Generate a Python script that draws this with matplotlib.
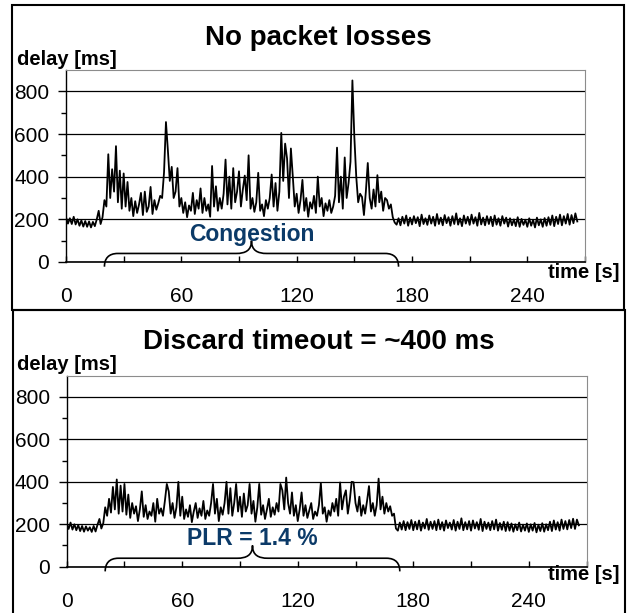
import numpy as np
import matplotlib
matplotlib.use('Agg')
import matplotlib.pyplot as plt
from matplotlib.path import Path
from matplotlib.patches import PathPatch, Rectangle
from matplotlib.ticker import MultipleLocator, FixedLocator

plt.rcParams['font.family'] = ['Liberation Sans', 'DejaVu Sans']

# delay [ms], one sample per second

# no packet losses
delay_top = [
    210, 180, 205, 178, 212, 176, 200, 170, 195, 166,   # 0-9
    192, 165, 190, 162, 188, 168, 200, 240, 178, 210,   # 10-19
    290, 260, 505, 300, 435, 330, 543, 280, 428, 250,   # 20-29
    415, 260, 375, 240, 300, 215, 285, 230, 270, 324,   # 30-39
    220, 330, 235, 260, 352, 225, 290, 245, 275, 310,   # 40-49
    300, 420, 656, 524, 380, 446, 300, 330, 440, 260,   # 50-59
    300, 230, 280, 210, 265, 240, 324, 225, 290, 250,   # 60-69
    345, 230, 300, 240, 270, 212, 450, 260, 355, 240,   # 70-79
    300, 250, 320, 480, 270, 400, 250, 440, 280, 330,   # 80-89
    425, 260, 340, 405, 290, 500, 250, 300, 235, 280,   # 90-99
    418, 240, 270, 215, 290, 250, 300, 410, 260, 370,   # 100-109
    240, 330, 605, 380, 555, 485, 300, 532, 400, 260,   # 110-119
    320, 230, 290, 385, 240, 300, 212, 280, 250, 310,   # 120-129
    230, 400, 260, 300, 215, 275, 240, 290, 230, 260,   # 130-139
    310, 536, 280, 400, 250, 490, 300, 370, 470, 851,   # 140-149
    588, 400, 280, 320, 305, 220, 330, 464, 300, 250,   # 150-159
    340, 260, 407, 280, 330, 240, 300, 290, 250, 270,   # 160-169
    210, 185, 175, 205, 172, 212, 180, 218, 170, 208,   # 170-179
    176, 215, 182, 210, 168, 222, 178, 205, 174, 218,   # 180-189
    180, 212, 170, 225, 178, 208, 172, 220, 182, 210,   # 190-199
    170, 215, 178, 228, 175, 205, 168, 218, 180, 212,   # 200-209
    174, 222, 180, 210, 170, 230, 176, 208, 172, 215,   # 210-219
    178, 212, 168, 218, 175, 205, 170, 215, 180, 208,   # 220-229
    166, 205, 172, 200, 168, 210, 165, 202, 174, 198,   # 230-239
    165, 205, 170, 198, 162, 208, 172, 200, 165, 206,   # 240-249
    170, 210, 174, 218, 168, 212, 178, 222, 172, 215,   # 250-259
    180, 225, 175, 220, 182, 228, 190,                  # 260-266
]

# discard timeout = ~400 ms
delay_bottom = [
    205, 178, 208, 175, 200, 172, 196, 168, 192, 165,   # 0-9
    190, 170, 186, 164, 192, 166, 198, 225, 180, 205,   # 10-19
    280, 240, 320, 255, 376, 270, 411, 250, 382, 260,   # 20-29
    390, 245, 340, 230, 300, 250, 285, 215, 270, 355,   # 30-39
    235, 290, 225, 260, 240, 300, 212, 320, 250, 275,   # 40-49
    240, 310, 390, 355, 250, 300, 230, 280, 400, 240,   # 50-59
    330, 225, 270, 235, 290, 210, 260, 300, 230, 275,   # 60-69
    240, 310, 225, 265, 240, 300, 390, 250, 320, 215,   # 70-79
    280, 245, 300, 400, 250, 370, 240, 300, 390, 260,   # 80-89
    330, 235, 345, 260, 290, 390, 250, 310, 212, 280,   # 90-99
    390, 245, 290, 225, 270, 320, 235, 280, 245, 300,   # 100-109
    260, 390, 360, 270, 420, 300, 250, 350, 240, 290,   # 110-119
    215, 270, 350, 240, 290, 230, 265, 300, 225, 260,   # 120-129
    240, 290, 395, 250, 280, 212, 265, 240, 300, 260,   # 130-139
    320, 240, 397, 270, 330, 360, 250, 310, 400, 398,   # 140-149
    300, 260, 330, 240, 290, 250, 310, 380, 260, 300,   # 150-159
    240, 290, 415, 270, 330, 250, 300, 260, 285, 240,   # 160-169
    250, 180, 170, 208, 175, 215, 172, 210, 178, 220,   # 170-179
    172, 212, 176, 218, 170, 208, 180, 225, 174, 212,   # 180-189
    178, 215, 172, 222, 176, 210, 170, 218, 182, 208,   # 190-199
    175, 220, 170, 212, 178, 228, 172, 210, 176, 215,   # 200-209
    170, 218, 180, 210, 174, 225, 168, 212, 178, 208,   # 210-219
    172, 215, 176, 222, 170, 206, 174, 212, 168, 210,   # 220-229
    170, 204, 165, 200, 172, 208, 166, 198, 170, 204,   # 230-239
    164, 200, 170, 206, 162, 198, 168, 205, 165, 200,   # 240-249
    172, 212, 168, 218, 175, 210, 170, 222, 178, 215,   # 250-259
    176, 220, 182, 226, 178, 222, 195,                  # 260-266
]

titles = ['No packet losses', 'Discard timeout = ~400 ms']
notes = ['Congestion', 'PLR = 1.4 %']
congestion = (20, 173)   # start / end of the congested period [s]

note_color = '#0b3a68'
grey = '#8c8c8c'

fig = plt.figure(figsize=(6.28, 6.13), dpi=100)


def brace(ax, t0, t1):
    # curly brace under the congested period, tip in the middle
    mid = (t0 + t1) / 2
    verts = [(t0, -22), (t0, 15), (t0 + 2, 40), (t0 + 7, 40),
             (mid - 8, 40),
             (mid - 3, 40), (mid, 55), (mid, 100),
             (mid, 55), (mid + 3, 40), (mid + 8, 40),
             (t1 - 7, 40),
             (t1 - 2, 40), (t1, 15), (t1, -22)]
    codes = [Path.MOVETO, Path.CURVE4, Path.CURVE4, Path.CURVE4,
             Path.LINETO,
             Path.CURVE4, Path.CURVE4, Path.CURVE4,
             Path.CURVE4, Path.CURVE4, Path.CURVE4,
             Path.LINETO,
             Path.CURVE4, Path.CURVE4, Path.CURVE4]
    ax.add_patch(PathPatch(Path(verts, codes), fill=False, lw=1.2,
                           color='black', clip_on=False))
    return mid


def panel(rect, delay, title, note, box, title_y, ylab_y, xlab_y):
    ax = fig.add_axes(rect)
    t = np.arange(len(delay))
    ax.plot(t, delay, color='black', lw=1.3)

    ax.set_xlim(0, 270)
    ax.set_ylim(0, 900)
    ax.xaxis.set_major_locator(MultipleLocator(60))
    ax.xaxis.set_minor_locator(MultipleLocator(30))
    ax.yaxis.set_major_locator(MultipleLocator(200))
    ax.yaxis.set_minor_locator(FixedLocator([100, 300, 500, 700]))
    ax.tick_params(axis='x', which='both', direction='in', length=4,
                   width=1, pad=18, labelsize=15, top=False)
    ax.tick_params(axis='y', which='major', direction='out', length=6,
                   width=1, pad=6, labelsize=15, right=False)
    ax.tick_params(axis='y', which='minor', direction='out', length=3.5,
                   width=1, right=False)
    ax.yaxis.grid(True, which='major', color='black', lw=0.9)
    ax.set_axisbelow(True)
    for s in ['top', 'right']:
        ax.spines[s].set_color(grey)
    ax.spines['left'].set_linewidth(1)
    ax.spines['bottom'].set_linewidth(1.2)

    mid = brace(ax, *congestion)
    ax.text(mid, 100, note, ha='center', va='baseline', fontsize=16.5,
            fontweight='bold', color=note_color)

    fig.text(0.507, title_y, title, ha='center', va='baseline',
             fontsize=20, fontweight='bold')
    fig.text(0.027, ylab_y, 'delay [ms]', ha='left', va='baseline',
             fontsize=14.5, fontweight='bold')
    fig.text(0.986, xlab_y, 'time [s]', ha='right', va='baseline',
             fontsize=14.5, fontweight='bold')

    fig.add_artist(Rectangle((box[0], box[1]), box[2], box[3], fill=False,
                             lw=1.5, color='black',
                             transform=fig.transFigure))
    return ax


panel([0.1051, 0.5726, 0.8264, 0.3132], delay_top, titles[0], notes[0],
      (0.0195, 0.4943, 0.9742, 0.4975), 0.9266, 0.894, 0.546)
panel([0.1062, 0.0755, 0.8278, 0.3116], delay_bottom, titles[1], notes[1],
      (0.0210, -0.01, 0.9742, 0.5043), 0.4302, 0.3964, 0.0538)

fig.savefig('out.png', dpi=100)
